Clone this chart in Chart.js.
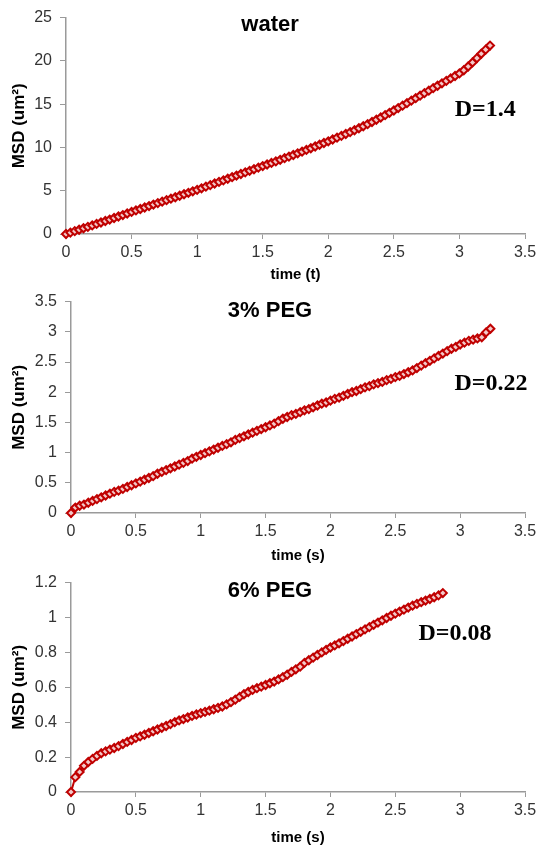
<!DOCTYPE html>
<html>
<head>
<meta charset="utf-8">
<script src="https://cdn.jsdelivr.net/npm/chart.js@4.4.1/dist/chart.umd.min.js"></script>
<style>
  body { margin: 0; background: #fff; }
  #wrap { position: relative; width: 541px; height: 847px; }
  canvas { position: absolute; left: 0; }
</style>
</head>
<body>
<div id="wrap">
  <canvas id="c0" width="541" height="284" style="top:0"></canvas>
  <canvas id="c1" width="541" height="281" style="top:284px"></canvas>
  <canvas id="c2" width="541" height="282" style="top:565px"></canvas>
</div>
<script>
const frameStep = 1 / 30; // seconds between frames

// MSD (um^2) per frame
const waterMsd = [
	0, 0.16, 0.33, 0.49, 0.66, 0.82, 0.99, 1.16, 1.33, 1.50,
	1.67, 1.85, 2.02, 2.19, 2.37, 2.55, 2.72, 2.89, 3.06, 3.23,
	3.40, 3.57, 3.74, 3.91, 4.08, 4.25, 4.42, 4.59, 4.76, 4.93,
	5.10, 5.28, 5.47, 5.65, 5.83, 6.02, 6.20, 6.38, 6.57, 6.75,
	6.93, 7.12, 7.30, 7.48, 7.67, 7.85, 8.03, 8.21, 8.39, 8.57,
	8.76, 8.94, 9.13, 9.32, 9.51, 9.71, 9.91, 10.11, 10.31, 10.51,
	10.71, 10.92, 11.13, 11.34, 11.55, 11.77, 11.99, 12.22, 12.45, 12.69,
	12.94, 13.20, 13.46, 13.73, 14.00, 14.27, 14.55, 14.83, 15.11, 15.40,
	15.69, 15.98, 16.27, 16.56, 16.85, 17.13, 17.41, 17.69, 17.97, 18.25,
	18.55, 18.92, 19.35, 19.82, 20.32, 20.82, 21.30, 21.77
];
const peg3Msd = [
	0, 0.09, 0.12, 0.14, 0.17, 0.20, 0.23, 0.26, 0.29, 0.32,
	0.35, 0.37, 0.40, 0.43, 0.46, 0.49, 0.52, 0.55, 0.58, 0.61,
	0.65, 0.68, 0.71, 0.74, 0.77, 0.80, 0.83, 0.86, 0.90, 0.93,
	0.96, 0.99, 1.02, 1.05, 1.08, 1.11, 1.14, 1.17, 1.21, 1.24,
	1.27, 1.30, 1.33, 1.36, 1.39, 1.42, 1.45, 1.48, 1.52, 1.56,
	1.59, 1.62, 1.64, 1.67, 1.70, 1.72, 1.75, 1.78, 1.81, 1.83,
	1.86, 1.89, 1.91, 1.94, 1.97, 2.00, 2.02, 2.05, 2.08, 2.10,
	2.13, 2.15, 2.17, 2.20, 2.22, 2.25, 2.27, 2.30, 2.33, 2.36,
	2.40, 2.44, 2.48, 2.52, 2.56, 2.60, 2.64, 2.68, 2.72, 2.75,
	2.79, 2.82, 2.85, 2.87, 2.89, 2.91, 2.99, 3.05
];
const peg6Msd = [
	0, 0.085, 0.115, 0.15, 0.172, 0.19, 0.207, 0.222, 0.233, 0.243,
	0.252, 0.263, 0.275, 0.287, 0.298, 0.31, 0.319, 0.328, 0.338, 0.348,
	0.358, 0.368, 0.378, 0.389, 0.40, 0.41, 0.418, 0.427, 0.436, 0.444,
	0.452, 0.459, 0.466, 0.474, 0.482, 0.49, 0.502, 0.515, 0.529, 0.545,
	0.56, 0.573, 0.585, 0.595, 0.604, 0.613, 0.623, 0.633, 0.645, 0.658,
	0.672, 0.688, 0.703, 0.718, 0.74, 0.755, 0.77, 0.785, 0.80, 0.814,
	0.828, 0.84, 0.852, 0.865, 0.878, 0.891, 0.905, 0.918, 0.932, 0.945,
	0.958, 0.971, 0.984, 0.997, 1.01, 1.022, 1.034, 1.045, 1.057, 1.068,
	1.078, 1.088, 1.097, 1.106, 1.116, 1.127, 1.14
];

const panelTitles = ["water", "3% PEG", "6% PEG"];
const diffLabels = ["D=1.4", "D=0.22", "D=0.08"];
const xTitles = ["time (t)", "time (s)", "time (s)"];
const yMax = [25, 3.5, 1.2];
const yStep = [5, 0.5, 0.2];
const xMax = 3.5;
const xStep = 0.5;

const red = "#c00000";
const axisGrey = "#9a9a9a";
const tickCol = "#333333";
const sans = "'Liberation Sans', Arial, sans-serif";

// plain tick text: 1 not 1.0, 0.6 not 0.6000000001
const tickText = v => String(+v.toFixed(2));

// text placed in data units of each panel
const panelText = {
	id: "panelText",
	afterDatasetsDraw(chart, args, opts) {
		const { ctx, scales: { x, y } } = chart;
		ctx.save();
		ctx.fillStyle = "#000";
		ctx.textAlign = "center";
		ctx.textBaseline = "middle";
		opts.items.forEach(it => {
			ctx.font = it.font;
			ctx.fillText(it.text, x.getPixelForValue(it.x), y.getPixelForValue(it.y));
		});
		ctx.restore();
	}
};

// per-panel frame: plot left edge, top padding, x axis band
const frames = [
	{ axisW: 66, padTop: 15, xBand: 50, title: [1.556, 24.2], diff: [3.196, 14.4] },
	{ axisW: 71, padTop: 11, xBand: 52, title: [1.534, 3.34], diff: [3.238, 2.135] },
	{ axisW: 71, padTop: 9, xBand: 55, title: [1.534, 1.15], diff: [2.96, 0.904] }
];

const series = [waterMsd, peg3Msd, peg6Msd];

series.forEach((msd, k) => {
	const f = frames[k];
	const pts = msd.map((v, i) => ({ x: i * frameStep, y: v }));

	new Chart(document.getElementById("c" + k), {
		type: "line",
		data: {
			datasets: [{
				data: pts,
				borderColor: red,
				borderWidth: 2,
				pointStyle: "rectRot",
				pointRadius: 4,
				pointBorderWidth: 2,
				pointBorderColor: red,
				pointBackgroundColor: "#f3c8c8",
				tension: 0,
				clip: false
			}]
		},
		options: {
			responsive: false,
			devicePixelRatio: 1,
			animation: false,
			layout: { padding: { left: 0, right: 16, top: f.padTop, bottom: 0 } },
			scales: {
				x: {
					type: "linear",
					min: 0,
					max: xMax,
					afterFit: s => { s.height = f.xBand; },
					ticks: { stepSize: xStep, callback: tickText, color: tickCol, font: { family: sans, size: 16 }, padding: 4, maxRotation: 0 },
					grid: { drawOnChartArea: false, color: axisGrey, tickLength: 5 },
					border: { color: axisGrey, width: 1.5 },
					title: { display: true, text: xTitles[k], color: "#000", font: { family: sans, size: 15, weight: "bold" }, padding: { top: 0, bottom: 0 } }
				},
				y: {
					min: 0,
					max: yMax[k],
					afterFit: s => { s.width = f.axisW; },
					ticks: { stepSize: yStep[k], callback: tickText, color: tickCol, font: { family: sans, size: 16 }, padding: 8 },
					grid: { drawOnChartArea: false, color: axisGrey, tickLength: 6 },
					border: { color: axisGrey, width: 1.5 },
					title: { display: true, text: "MSD (um²)", color: "#000", font: { family: sans, size: 17, weight: "bold" }, padding: { top: 9, bottom: 0 } }
				}
			},
			plugins: {
				legend: { display: false },
				tooltip: { enabled: false },
				panelText: {
					items: [
						{ text: panelTitles[k], x: f.title[0], y: f.title[1], font: "bold 22px " + sans },
						{ text: diffLabels[k], x: f.diff[0], y: f.diff[1], font: "bold 24px 'Liberation Serif', 'Times New Roman', serif" }
					]
				}
			}
		},
		plugins: [panelText]
	});
});
</script>
</body>
</html>
